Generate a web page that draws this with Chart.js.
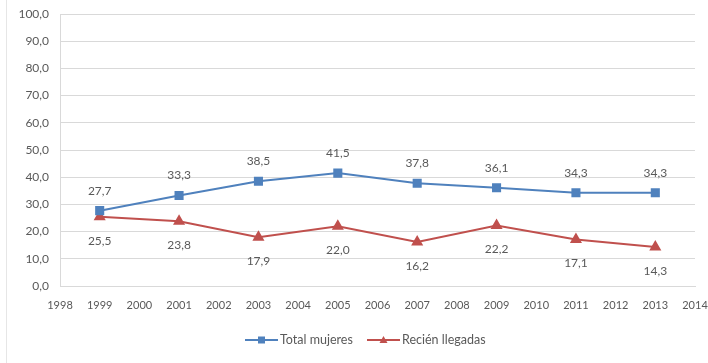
<!DOCTYPE html>
<html>
<head>
<meta charset="utf-8">
<script src="https://cdn.jsdelivr.net/npm/chart.js@4"></script>
<style>
  html, body { margin: 0; padding: 0; background: #fff; }
  #wrap { width: 708px; height: 363px; position: relative; }
</style>
</head>
<body>
<div id="wrap"><canvas id="chart"></canvas></div>
<script>
// ---- Datos ----
const years         = [1999, 2001, 2003, 2005, 2007, 2009, 2011, 2013];
const totalMujeres  = [27.7, 33.3, 38.5, 41.5, 37.8, 36.1, 34.3, 34.3];
const recienLlegadas = [25.5, 23.8, 17.9, 22.0, 16.2, 22.2, 17.1, 14.3];
const seriesNames   = ['Total mujeres', 'Recién llegadas'];

const BLUE = '#4F81BD';
const RED  = '#C0504D';
const TEXT = '#595959';
const GRID = '#d9d9d9';
const FONT = 'Lato, "Open Sans", sans-serif';

const fmt = v => v.toFixed(1).replace('.', ',');

// etiquetas de valor: arriba para la serie azul, abajo para la roja
const valueLabels = {
  id: 'valueLabels',
  afterDatasetsDraw(chart) {
    const ctx = chart.ctx;
    ctx.save();
    ctx.font = '12px ' + FONT;
    ctx.fillStyle = TEXT;
    ctx.textAlign = 'center';
    ctx.textBaseline = 'middle';
    chart.data.datasets.forEach((ds, di) => {
      const meta = chart.getDatasetMeta(di);
      meta.data.forEach((pt, i) => {
        const off = di === 0 ? -20 : 24;
        ctx.fillText(fmt(ds.data[i].y), pt.x, pt.y + off);
      });
    });
    ctx.restore();
  }
};

// leyenda inferior con línea + marcador, y marco del gráfico
const bottomLegend = {
  id: 'bottomLegend',
  afterDraw(chart) {
    const ctx = chart.ctx;
    ctx.save();
    // marco
    ctx.strokeStyle = '#e6e6e6';
    ctx.lineWidth = 1;
    ctx.beginPath();
    ctx.moveTo(6.5, 0);
    ctx.lineTo(6.5, 363);
    ctx.stroke();

    ctx.font = '12.5px ' + FONT;
    ctx.textBaseline = 'middle';
    const y = 340;
    const items = [
      { x: 245, color: BLUE, style: 'rect' },
      { x: 367, color: RED,  style: 'triangle' }
    ];
    items.forEach((it, i) => {
      ctx.strokeStyle = it.color;
      ctx.fillStyle = it.color;
      ctx.lineWidth = 2;
      ctx.beginPath();
      ctx.moveTo(it.x, y);
      ctx.lineTo(it.x + 33, y);
      ctx.stroke();
      const cx = it.x + 16.5;
      ctx.beginPath();
      if (it.style === 'rect') {
        ctx.rect(cx - 3.5, y - 3.5, 7, 7);
      } else {
        ctx.moveTo(cx, y - 4);
        ctx.lineTo(cx + 4, y + 3);
        ctx.lineTo(cx - 4, y + 3);
        ctx.closePath();
      }
      ctx.fill();
      ctx.fillStyle = TEXT;
      ctx.fillText(seriesNames[i], it.x + 35, y);
    });
    ctx.restore();
  }
};

const toXY = arr => arr.map((v, i) => ({ x: years[i], y: v }));

new Chart(document.getElementById('chart'), {
  type: 'line',
  data: {
    datasets: [
      {
        label: seriesNames[0],
        data: toXY(totalMujeres),
        borderColor: BLUE,
        backgroundColor: BLUE,
        borderWidth: 2,
        pointStyle: 'rect',
        pointRadius: 5,
        pointHoverRadius: 5,
        tension: 0
      },
      {
        label: seriesNames[1],
        data: toXY(recienLlegadas),
        borderColor: RED,
        backgroundColor: RED,
        borderWidth: 2,
        pointStyle: 'triangle',
        pointRadius: 5,
        pointHoverRadius: 5,
        tension: 0
      }
    ]
  },
  options: {
    responsive: true,
    maintainAspectRatio: false,
    animation: false,
    layout: { padding: { left: 6, right: 13, top: 14, bottom: 47 } },
    plugins: {
      legend: { display: false },
      tooltip: { enabled: false }
    },
    scales: {
      x: {
        type: 'linear',
        min: 1998,
        max: 2014,
        ticks: {
          stepSize: 1,
          color: TEXT,
          font: { family: FONT, size: 11 },
          padding: 13,
          maxRotation: 0,
          autoSkip: false,
          callback: v => String(v)
        },
        grid: { display: false, drawTicks: false },
        border: { display: true, color: GRID },
        afterFit: s => { s.height = 30; s.paddingLeft = 0; s.paddingRight = 0; }
      },
      y: {
        min: 0,
        max: 100,
        ticks: {
          stepSize: 10,
          color: TEXT,
          font: { family: FONT, size: 12 },
          padding: 11,
          callback: v => fmt(v)
        },
        grid: { color: GRID, drawTicks: false },
        border: { display: true, color: GRID },
        afterFit: s => { s.width = 54; s.paddingTop = 0; s.paddingBottom = 0; }
      }
    }
  },
  plugins: [valueLabels, bottomLegend]
});
</script>
</body>
</html>
